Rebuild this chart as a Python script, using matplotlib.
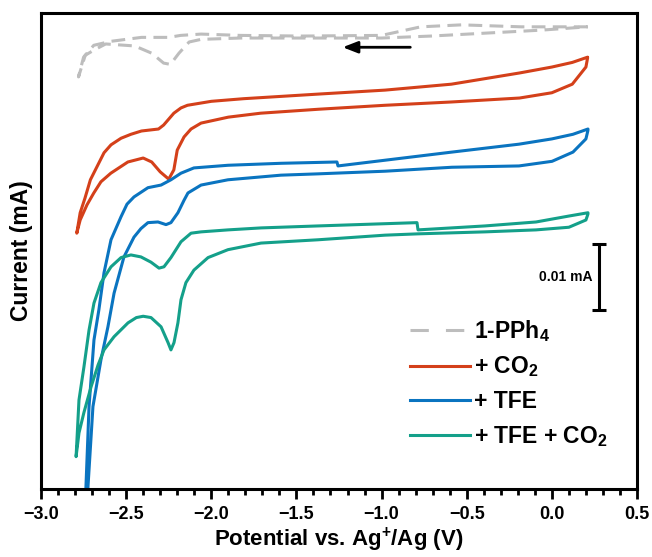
import numpy as np
import matplotlib
matplotlib.use("Agg")
import matplotlib.pyplot as plt
from matplotlib.lines import Line2D

plt.rcParams['font.family'] = ['Liberation Sans', 'DejaVu Sans']
plt.rcParams['font.weight'] = 'bold'
plt.rcParams['mathtext.fontset'] = 'custom'
plt.rcParams['mathtext.rm'] = 'Liberation Sans:bold'
plt.rcParams['mathtext.bf'] = 'Liberation Sans:bold'
plt.rcParams['mathtext.it'] = 'Liberation Sans:bold'
plt.rcParams['mathtext.default'] = 'bf'

# ---- data: potential (V vs Ag+/Ag), current (uA, arbitrary offset, stacked) ----
# 1-PPh4 (gray dashed)
pph_a_V = [-2.78, -2.75, -2.69, -2.59, -2.41, -2.25, -2.18, -2.06, -1.83, -1.47, -1.00, -0.77, -0.53, -0.18, 0.21]
pph_a_I = [62.6, 65.6, 67.4, 68.0, 68.6, 68.6, 68.9, 69.1, 68.9, 68.8, 68.9, 70.2, 70.5, 70.2, 70.2]
pph_b_V = [-2.78, -2.74, -2.68, -2.62, -2.45, -2.35, -2.28, -2.24, -2.19, -2.13, -2.06, -1.83, -1.47, -1.00, -0.71, -0.42, -0.06, 0.21]
pph_b_I = [62.6, 65.9, 66.8, 67.6, 67.3, 66.2, 64.7, 64.5, 66.2, 67.9, 68.3, 68.5, 68.5, 68.5, 68.8, 69.2, 69.7, 70.2]

# + CO2 (red)
co2_a_V = [-2.79, -2.77, -2.742, -2.71, -2.63, -2.589, -2.53, -2.472, -2.41, -2.31, -2.28, -2.22, -2.178, -2.14, -2.00, -1.81, -1.37, -0.98, -0.59, -0.19, 0.00, 0.12, 0.21]
co2_a_I = [38.9, 42.0, 44.2, 47.0, 51.1, 52.3, 53.3, 53.9, 54.4, 54.7, 55.3, 57.1, 57.9, 58.3, 58.9, 59.3, 60.0, 60.6, 61.5, 63.2, 64.1, 64.8, 65.6]
co2_b_V = [-2.79, -2.77, -2.730, -2.69, -2.648, -2.59, -2.49, -2.40, -2.35, -2.30, -2.25, -2.22, -2.20, -2.16, -2.119, -2.06, -1.90, -1.71, -1.37, -0.98, -0.59, -0.19, 0.00, 0.12, 0.20, 0.21]
co2_b_I = [38.9, 40.9, 43.2, 45.0, 46.7, 48.0, 49.7, 50.3, 49.7, 48.2, 47.1, 48.5, 51.5, 53.5, 54.7, 55.6, 56.5, 57.1, 57.7, 58.3, 58.8, 59.4, 60.2, 61.5, 64.1, 65.5]

# + TFE (blue)
tfe_a_V = [-2.742, -2.736, -2.718, -2.689, -2.660, -2.630, -2.589, -2.530, -2.495, -2.454, -2.372, -2.295, -2.237, -2.178, -2.102, -1.902, -1.591, -1.262, -1.256, -0.587, -0.193, 0.00, 0.124, 0.212]
tfe_a_I = [-3.0, 0.5, 12.6, 22.7, 27.3, 32.9, 37.9, 41.4, 43.3, 44.4, 45.8, 46.2, 47.0, 48.0, 48.8, 49.2, 49.5, 49.7, 49.1, 51.2, 52.4, 53.2, 53.9, 54.7]
tfe_b_V = [-2.730, -2.724, -2.695, -2.648, -2.607, -2.571, -2.513, -2.454, -2.413, -2.372, -2.313, -2.266, -2.237, -2.196, -2.160, -2.137, -2.060, -1.902, -1.591, -1.373, -0.980, -0.587, -0.193, 0.001, 0.124, 0.200, 0.212]
tfe_b_I = [-3.0, 0.5, 12.6, 19.7, 24.7, 29.8, 35.3, 38.3, 39.6, 40.5, 40.6, 40.2, 40.5, 42.0, 43.9, 45.0, 46.2, 47.0, 47.7, 47.9, 48.3, 48.9, 49.1, 49.8, 51.2, 53.2, 54.5]

# + TFE + CO2 (teal)
both_a_V = [-2.794, -2.777, -2.748, -2.718, -2.689, -2.648, -2.589, -2.530, -2.472, -2.413, -2.354, -2.307, -2.278, -2.237, -2.178, -2.119, -2.060, -1.902, -1.708, -1.373, -0.792, -0.786, -0.393, -0.093, 0.100, 0.212]
both_a_I = [5.0, 13.6, 18.6, 24.2, 28.3, 31.4, 33.8, 35.2, 35.6, 35.3, 34.5, 33.6, 33.8, 35.2, 37.6, 38.9, 39.1, 39.4, 39.7, 40.0, 40.5, 39.4, 40.0, 40.6, 41.5, 42.0]
both_b_V = [-2.794, -2.777, -2.748, -2.706, -2.665, -2.630, -2.571, -2.489, -2.440, -2.400, -2.354, -2.295, -2.254, -2.237, -2.219, -2.196, -2.178, -2.149, -2.102, -2.019, -1.902, -1.708, -1.373, -0.980, -0.786, -0.393, -0.093, 0.100, 0.200, 0.212]
both_b_I = [5.0, 8.6, 11.7, 15.6, 18.9, 21.2, 23.2, 25.3, 26.1, 26.3, 26.1, 24.7, 22.3, 21.2, 22.3, 25.3, 28.8, 31.4, 33.3, 35.2, 36.4, 37.4, 37.9, 38.6, 38.8, 39.1, 39.4, 39.8, 40.9, 41.8]

labels = ['1-PPh$_4$', '+ CO$_2$', '+ TFE', '+ TFE + CO$_2$']
colors = ['#BDBDBD', '#D4401A', '#0A74C0', '#14A08A']
xticks = [-3.0, -2.5, -2.0, -1.5, -1.0, -0.5, 0.0, 0.5]
scale_bar_uA = 10.0
scale_text = '0.01 mA'


def loop(aV, aI, bV, bI):
    return np.r_[np.array(aV)[::-1], bV], np.r_[np.array(aI)[::-1], bI]


fig = plt.figure(figsize=(6.52, 5.57), dpi=100)
ax = fig.add_axes([0.0629, 0.1221, 0.9141, 0.8546])

lw = 2.2
V, I = loop(pph_a_V, pph_a_I, pph_b_V, pph_b_I)
ax.plot(V, I, color=colors[0], lw=lw, dashes=(4.5, 2.4), solid_joinstyle='round')
for (aV, aI, bV, bI), c in zip([(co2_a_V, co2_a_I, co2_b_V, co2_b_I),
                                (tfe_a_V, tfe_a_I, tfe_b_V, tfe_b_I),
                                (both_a_V, both_a_I, both_b_V, both_b_I)], colors[1:]):
    V, I = loop(aV, aI, bV, bI)
    ax.plot(V, I, color=c, lw=lw, solid_joinstyle='round', solid_capstyle='round')

ax.set_xlim(-3.0, 0.5)
ax.set_ylim(0.1, 72.3)
ax.set_xticks(xticks)
ax.set_xticklabels([f'{t:.1f}'.replace('-', '\u2212') for t in xticks])
ax.xaxis.set_minor_locator(matplotlib.ticker.MultipleLocator(0.1))
ax.tick_params(axis='x', which='major', direction='out', length=7, width=2, labelsize=13, pad=5)
ax.tick_params(axis='x', which='minor', direction='out', length=4, width=2)
ax.set_yticks([])
for s in ax.spines.values():
    s.set_linewidth(2.2)

ax.set_xlabel('Potential vs. Ag$^{+}$/Ag (V)', fontsize=16, fontweight='bold', labelpad=2)
ax.set_ylabel('Current (mA)', fontsize=16.5, fontweight='bold', labelpad=6)

# scale bar
sb_x = 0.277
sb_y0 = 27.3
ax.errorbar([sb_x], [sb_y0 + scale_bar_uA / 2], yerr=[[scale_bar_uA / 2], [scale_bar_uA / 2]],
            fmt='none', ecolor='black', elinewidth=2.2, capsize=5, capthick=2.2)
ax.text(sb_x - 0.04, sb_y0 + scale_bar_uA / 2, scale_text, fontsize=10, fontweight='bold',
        ha='right', va='center')

# sweep direction arrow
ax.annotate('', xy=(-1.245, 67.1), xytext=(-0.815, 67.1),
            arrowprops=dict(arrowstyle='-|>,head_length=0.9,head_width=0.35', color='black', lw=2))

handles = [Line2D([], [], color=colors[0], lw=lw, dashes=(6.0, 5.6)),
           Line2D([], [], color=colors[1], lw=lw),
           Line2D([], [], color=colors[2], lw=lw),
           Line2D([], [], color=colors[3], lw=lw)]
leg = ax.legend(handles, labels, loc='upper left', bbox_to_anchor=(0.619, 0.36), frameon=False,
                fontsize=16.5, handlelength=2.6, handletextpad=0.2, labelspacing=0.48,
                borderpad=0, borderaxespad=0)

fig.savefig('out.png', dpi=100)
